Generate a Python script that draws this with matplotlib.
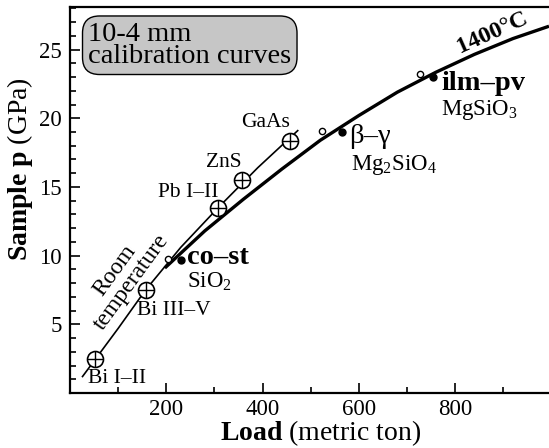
import numpy as np
import matplotlib
matplotlib.use("Agg")
import matplotlib.pyplot as plt
from matplotlib.ticker import MultipleLocator

plt.rcParams['font.family'] = ['Liberation Serif', 'DejaVu Serif']
plt.rcParams['mathtext.fontset'] = 'custom'
plt.rcParams['mathtext.rm'] = 'Liberation Serif'
plt.rcParams['mathtext.bf'] = 'Liberation Serif:bold'
plt.rcParams['mathtext.it'] = 'Liberation Serif:italic'

# room temperature calibration curve (load in metric ton, pressure in GPa)
room_load = [26, 100, 157, 230, 308, 390, 473]
room_p = [1.2, 4.7, 7.5, 10.6, 13.5, 16.4, 19.1]

# 1400 C calibration curve
hot_load = [197, 280, 360, 440, 520, 600, 680, 760, 840, 920, 995]
hot_p = [9.1, 11.8, 14.1, 16.3, 18.4, 20.2, 21.9, 23.35, 24.65, 25.8, 26.7]

# room temperature fixed points
calib_load = [51, 157, 308, 358, 456]
calib_p = [2.5, 7.5, 13.5, 15.5, 18.35]
calib_names = ['Bi I–II', 'Bi III–V', 'Pb I–II', 'ZnS', 'GaAs']

# high temperature transitions: open = onset, filled = transition
open_load = [203, 524, 727]
open_p = [9.75, 19.1, 23.2]
trans_load = [231, 565, 754]
trans_p = [9.7, 19.0, 23.0]
trans_names = ['co–st', 'β–γ', 'ilm–pv']
trans_phase = ['SiO$_2$', 'Mg$_2$SiO$_4$', 'MgSiO$_3$']

fig = plt.figure(figsize=(5.49, 4.48), dpi=100)
ax = fig.add_axes([70 / 549, 1 - 393 / 448, 1 - 70 / 549, 386 / 448])

ax.plot(room_load, room_p, color='black', lw=1.2, zorder=2)
ax.plot(hot_load, hot_p, color='black', lw=2.4, solid_capstyle='butt',
        solid_joinstyle='round', zorder=2)

ax.plot(calib_load, calib_p, 'o', ms=11.5, mfc='white', mec='black', mew=1.2, zorder=3)
ax.plot(calib_load, calib_p, '+', ms=11.5, mec='black', mew=1.0, zorder=4)
ax.plot(open_load, open_p, 'o', ms=4.5, mfc='white', mec='black', mew=1.0, zorder=3)
ax.plot(trans_load, trans_p, 'o', ms=5, mfc='black', mec='black', zorder=3)

# labels for calibrants (offsets in points)
calib_off = [(-5, -14, 'left'), (-6, -15, 'left'), (0, 11, 'right'), (-13, 13, 'center'), (-17, 13, 'center')]
for x, y, name, (dx, dy, ha) in zip(calib_load, calib_p, calib_names, calib_off):
    ax.annotate(name, (x, y), xytext=(dx, dy), textcoords='offset points',
                ha=ha, va='center', fontsize=15.5)

name_off = [(4.3, -3), (5, -8), (5.8, -9)]
name_bold = ['bold', 'normal', 'bold']
phase_off = [(4.3, -20), (6.5, -27.5), (5.8, -27)]
for i in range(3):
    xy = (trans_load[i], trans_p[i])
    ax.annotate(trans_names[i], xy, xytext=name_off[i], textcoords='offset points',
                ha='left', va='baseline', fontsize=20.5, fontweight=name_bold[i])
    ax.annotate(trans_phase[i], xy, xytext=phase_off[i], textcoords='offset points',
                ha='left', va='baseline', fontsize=16.5)

ax.text(878, 26.2, '1400°C', rotation=24, ha='center', va='center',
        fontsize=17.5, fontweight='bold')
ax.text(110, 8.5, 'Room\ntemperature', rotation=54, ha='center', va='center',
        fontsize=17, linespacing=0.95)

ax.text(0.038, 0.962, '10-4 mm\ncalibration curves', transform=ax.transAxes,
        ha='left', va='top', fontsize=20.5, linespacing=0.85,
        bbox=dict(boxstyle='round,pad=0.2,rounding_size=0.6', facecolor='#c6c6c6',
                  edgecolor='black', lw=1.0))

ax.set_xlim(0, 995)
ax.set_ylim(0, 28.1)
ax.xaxis.set_minor_locator(MultipleLocator(100))
ax.yaxis.set_minor_locator(MultipleLocator(1))
ax.set_xticks([200, 400, 600, 800])
ax.set_yticks([5, 10, 15, 20, 25])
ax.tick_params(which='both', direction='in', width=1.2, labelsize=16.5)
ax.tick_params(which='major', length=7.5)
ax.tick_params(which='minor', length=4.3)
ax.tick_params(axis='y', pad=6)
ax.tick_params(axis='x', pad=4)
ax.spines['right'].set_visible(False)
for s in ['left', 'bottom', 'top']:
    ax.spines[s].set_linewidth(1.6)

ax.set_xlabel(r'$\mathbf{Load}$ (metric ton)', fontsize=20)
ax.set_ylabel(r'$\mathbf{Sample\ p}$ (GPa)', fontsize=20)
ax.xaxis.set_label_coords(0.524, -0.065)
ax.yaxis.set_label_coords(-0.074, 0.58)

fig.savefig('out.png', dpi=100)
